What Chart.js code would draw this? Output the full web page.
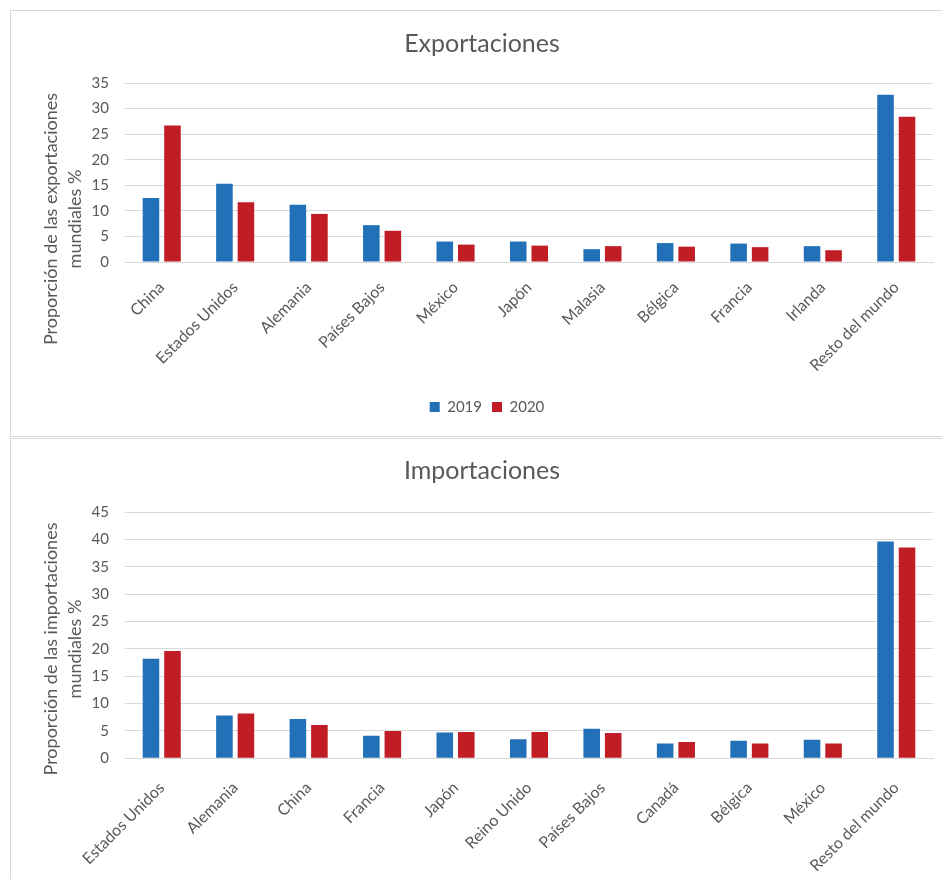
<!DOCTYPE html>
<html lang="es">
<head>
<meta charset="utf-8">
<title>Exportaciones e importaciones</title>
<script src="https://cdn.jsdelivr.net/npm/chart.js@4.4.1/dist/chart.umd.min.js"></script>
<style>
  html, body { margin: 0; padding: 0; background: #fff; overflow: hidden; }
  .panel { position: absolute; left: 10px; width: 940px; border: 1px solid #d9d9d9; box-sizing: border-box; background: #fff; }
  #panelExp { top: 10px; height: 427px; }
  #panelImp { top: 438px; height: 460px; }
  canvas { position: absolute; left: 0; top: 0; }
</style>
</head>
<body>
<div class="panel" id="panelExp"><canvas id="expChart" width="930" height="425"></canvas></div>
<div class="panel" id="panelImp"><canvas id="impChart" width="930" height="440"></canvas></div>
<script>
// Data (% of world trade)
const yearLabels = ['2019', '2020'];

const expCountries = ['China', 'Estados Unidos', 'Alemania', 'Países Bajos', 'México', 'Japón',
  'Malasia', 'Bélgica', 'Francia', 'Irlanda', 'Resto del mundo'];
const exp2019 = [12.5, 15.3, 11.2, 7.2, 4.0, 4.0, 2.5, 3.7, 3.6, 3.1, 32.7];
const exp2020 = [26.7, 11.7, 9.4, 6.1, 3.4, 3.2, 3.1, 3.0, 2.9, 2.3, 28.4];
const expTicks = [0, 5, 10, 15, 20, 25, 30, 35];

const impCountries = ['Estados Unidos', 'Alemania', 'China', 'Francia', 'Japón', 'Reino Unido',
  'Países Bajos', 'Canadá', 'Bélgica', 'México', 'Resto del mundo'];
const imp2019 = [18.2, 7.8, 7.2, 4.1, 4.7, 3.5, 5.4, 2.7, 3.2, 3.4, 39.6];
const imp2020 = [19.6, 8.2, 6.1, 5.0, 4.8, 4.8, 4.6, 3.0, 2.7, 2.7, 38.5];
const impTicks = [0, 5, 10, 15, 20, 25, 30, 35, 40, 45];

const BLUE = '#2270b8';
const RED = '#c01d25';
const TEXT = '#595959';
const GRID = '#d9d9d9';

Chart.defaults.font.family = 'Lato, "Open Sans", sans-serif';
Chart.defaults.color = TEXT;

/**
 * Draws the two-line rotated y axis title (Excel centres it lower than the plot)
 * and nudges title and legend a little to the right, like the original
 */
const excelLookPlugin = {
  id: 'excelLook',
  afterLayout(chart, args, opts) {
    const shift = (box, dx) => {
      if (!box || !dx) return;
      box.left += dx;
      box.right += dx;
    };
    shift(chart.legend, opts.legendShift);
    shift(chart.titleBlock, opts.titleShift);
  },
  afterDraw(chart, args, opts) {
    if (!opts.lines) return;
    const ctx = chart.ctx;
    ctx.save();
    ctx.fillStyle = TEXT;
    ctx.font = opts.font;
    ctx.textAlign = 'center';
    ctx.textBaseline = 'middle';
    ctx.translate(opts.x, opts.y);
    ctx.rotate(-Math.PI / 2);
    opts.lines.forEach((line, i) => ctx.fillText(line, 0, i * opts.gap));
    ctx.restore();
  }
};

/**
 * Build one grouped bar chart
 */
function createTradeChart(canvas, setup) {
  const ticks = setup.ticks;
  return new Chart(canvas, {
    type: 'bar',
    data: {
      labels: setup.labels,
      datasets: [{
        label: yearLabels[0],
        data: setup.first,
        backgroundColor: BLUE,
        categoryPercentage: 0.586,
        barPercentage: 0.77
      }, {
        label: yearLabels[1],
        data: setup.second,
        backgroundColor: RED,
        categoryPercentage: 0.586,
        barPercentage: 0.77
      }]
    },
    options: {
      responsive: false,
      animation: false,
      layout: {
        padding: { left: 0, right: 8, top: 0, bottom: setup.padBottom }
      },
      plugins: {
        title: {
          display: true,
          text: setup.title,
          color: TEXT,
          font: { size: 25, weight: 'normal' },
          padding: { top: setup.titleTop, bottom: setup.titleBottom }
        },
        legend: {
          display: setup.legend,
          position: 'bottom',
          labels: {
            boxWidth: 10,
            boxHeight: 10,
            padding: 10,
            color: TEXT,
            font: { size: 15 }
          }
        },
        tooltip: { enabled: false },
        excelLook: {
          legendShift: 15,
          titleShift: 10,
          lines: setup.yTitle,
          font: '18px Lato, "Open Sans", sans-serif',
          x: 40,
          y: setup.yTitleY,
          gap: 24
        }
      },
      scales: {
        x: {
          grid: { display: false, drawTicks: false },
          border: { color: GRID },
          ticks: {
            autoSkip: false,
            minRotation: 45,
            maxRotation: 45,
            padding: setup.labelPad,
            color: TEXT,
            font: { size: 16 }
          },
          afterFit(scale) { scale.height = setup.axisHeight; }
        },
        y: {
          min: ticks[0],
          max: ticks[ticks.length - 1],
          grid: { color: GRID, drawTicks: false },
          border: { display: false },
          ticks: {
            stepSize: ticks[1] - ticks[0],
            padding: 16,
            color: TEXT,
            font: { size: 15 }
          },
          afterFit(scale) { scale.width = 114; }
        }
      }
    },
    plugins: [excelLookPlugin]
  });
}

createTradeChart(document.getElementById('expChart'), {
  title: 'Exportaciones',
  labels: expCountries,
  first: exp2019,
  second: exp2020,
  ticks: expTicks,
  legend: true,
  titleTop: 18,
  titleBottom: 24,
  padBottom: 11.5,
  axisHeight: 127.5,
  labelPad: 16,
  yTitle: ['Proporción de las exportaciones', 'mundiales %'],
  yTitleY: 208
});

createTradeChart(document.getElementById('impChart'), {
  title: 'Importaciones',
  labels: impCountries,
  first: imp2019,
  second: imp2020,
  ticks: impTicks,
  legend: false,
  titleTop: 17,
  titleBottom: 26,
  padBottom: 0,
  axisHeight: 120.7,
  labelPad: 20,
  yTitle: ['Proporción de las importaciones', 'mundiales %'],
  yTitleY: 210
});
</script>
</body>
</html>
